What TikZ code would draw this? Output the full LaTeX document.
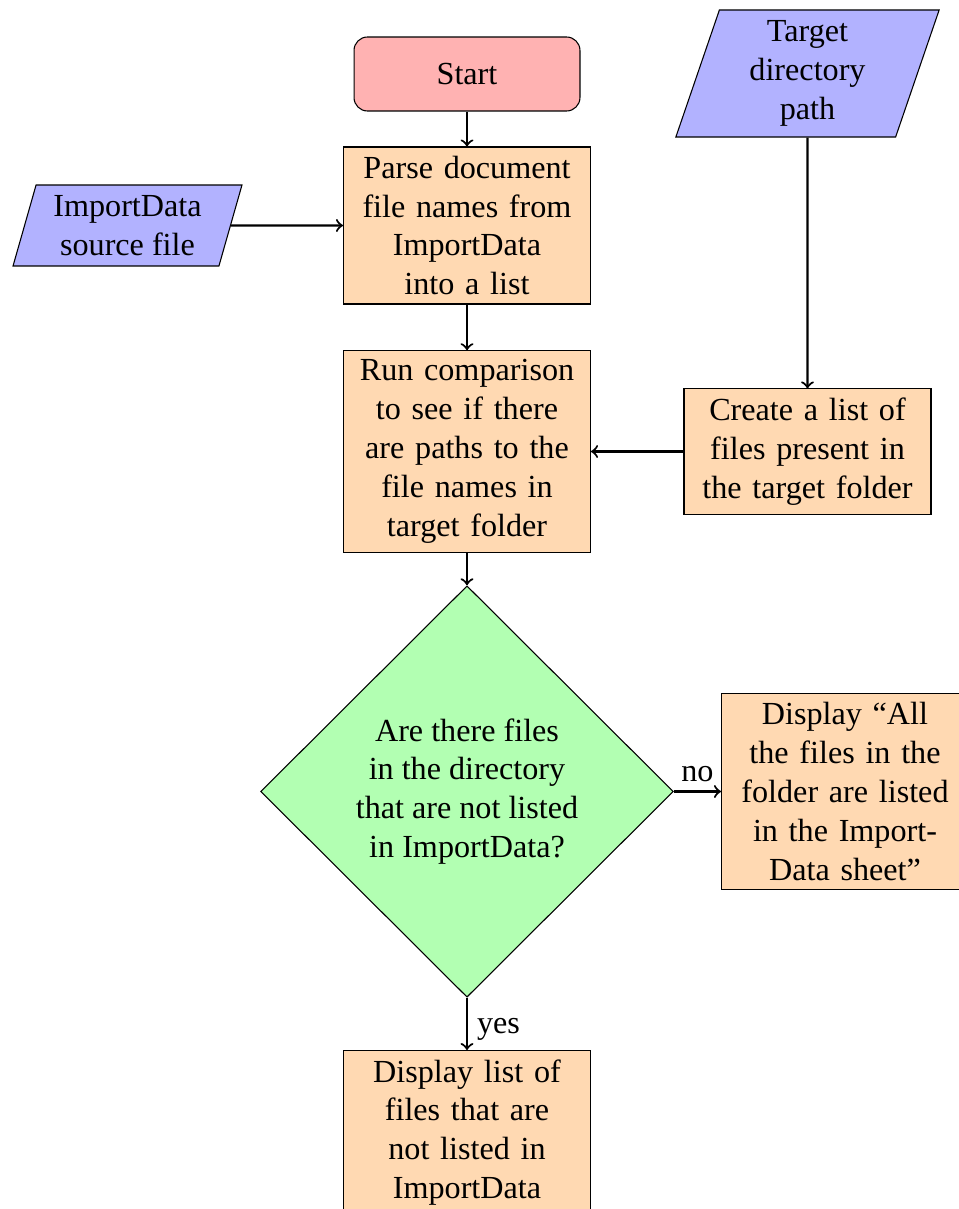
\documentclass[tikz,border=0pt]{standalone}
\usepackage{fontspec}
\setmainfont{Liberation Serif}
\usetikzlibrary{shapes.geometric}
\begin{document}
\begin{tikzpicture}[x=0.37313pt, y=-0.37313pt,
  font=\fontsize{12}{14.5}\selectfont,
  base/.style={draw=black, align=center, inner sep=3.33pt},
  startbox/.style={base, rectangle, rounded corners=5pt, fill=red!30,
    minimum width=84.3pt, minimum height=27.6pt},
  procbox/.style={base, rectangle, fill=orange!30, text width=85.5pt},
  iobox/.style={base, trapezium, trapezium left angle=75,
    trapezium right angle=105, trapezium stretches=true, fill=blue!30},
  decbox/.style={base, diamond, aspect=1, fill=green!30,
    minimum width=154pt, minimum height=153.5pt},
  flow/.style={thick, ->}]
\useasboundingbox (0,0) rectangle (958,1209);

% main column
\node[startbox] (start) at (467,74) {Start};
\node[procbox] (parse) at (467,225.5)
  {Parse document\\file names from\\ImportData\\into a list};
\node[procbox] (cmp) at (467,451.5)
  {Run comparison\\to see if there\\are paths to the\\file names in\\target folder};
\node[decbox] (dec) at (467,791.5)
  {Are there files\\in the directory\\that are not listed\\in ImportData?};
\node[procbox, anchor=north] (show) at (467,1050)
  {Display list of\\files that are\\not listed in\\ImportData};

% inputs and side branch
\node[iobox, minimum width=86pt, minimum height=30.2pt] (src) at (127.5,225.5)
  {ImportData\\source file};
\node[iobox, minimum width=99pt, minimum height=47.4pt] (tgt) at (807.5,73.5)
  {Target\\directory\\path};
\node[procbox] (lst) at (807.5,451.5)
  {Create a list of\\files present in\\the target folder};
\node[procbox] (none) at (845,791.5)
  {Display ``All\\the files in the\\folder are listed\\in the Import-\\Data sheet''};

% connectors
\draw[flow] (start) -- (parse);
\draw[flow] (parse) -- (cmp);
\draw[flow] (cmp) -- (dec);
\draw[flow] (src) -- (parse);
\draw[flow] (tgt) -- (lst);
\draw[flow] (lst) -- (cmp);
\draw[flow] (dec) -- node[above] {no} (none);
\draw[flow] (dec) -- node[right, yshift=-2pt] {yes} (show);
\end{tikzpicture}
\end{document}
